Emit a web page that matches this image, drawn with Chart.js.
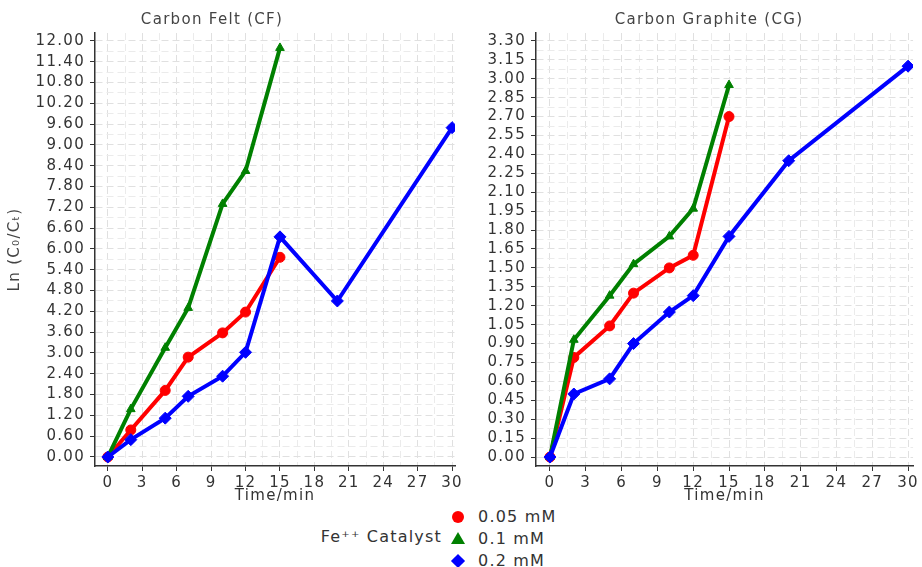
<!DOCTYPE html>
<html>
<head>
<meta charset="utf-8">
<script src="https://cdn.jsdelivr.net/npm/chart.js@4"></script>
<style>
body { margin: 0; background: #fff; width: 922px; height: 567px; overflow: hidden; font-family: "DejaVu Sans", sans-serif; }
#boxCF { position: absolute; left: 0; top: 0; width: 466px; height: 505px; }
#boxCG { position: absolute; left: 462px; top: 0; width: 460px; height: 505px; }
#legend { position: absolute; left: 0; top: 505px; width: 922px; height: 62px; color: #333; font-size: 16px; letter-spacing: 1.2px; }
#legend .title { position: absolute; right: 480px; top: 22px; white-space: nowrap; }
#legend .row { position: absolute; left: 448px; height: 22px; line-height: 22px; }
#legend .row span { position: absolute; left: 30px; white-space: nowrap; }
.mk { position: absolute; left: 4px; top: 5px; }
.mk.circle { width: 12px; height: 12px; border-radius: 50%; background: #ff0000; }
.mk.tri { width: 0; height: 0; left: 3px; top: 4px; border-left: 7px solid transparent; border-right: 7px solid transparent; border-bottom: 12px solid #008000; }
.mk.dia { width: 10px; height: 10px; left: 5px; top: 6px; background: #0000ff; transform: rotate(45deg); }
</style>
</head>
<body>
<div id="boxCF"><canvas id="chartCF"></canvas></div>
<div id="boxCG"><canvas id="chartCG"></canvas></div>
<div id="legend">
    <div class="title">Fe⁺⁺ Catalyst</div>
    <div class="row" style="top:1px"><div class="mk circle"></div><span id="lg0"></span></div>
    <div class="row" style="top:23px"><div class="mk tri"></div><span id="lg1"></span></div>
    <div class="row" style="top:45px"><div class="mk dia"></div><span id="lg2"></span></div>
</div>
<script>
// 数据
const timeShort = [0, 2, 5, 7, 10, 12, 15];
const timeLong = [0, 2, 5, 7, 10, 12, 15, 20, 30];
const seriesNames = ['0.05 mM', '0.1 mM', '0.2 mM'];

// Carbon Felt (CF)
const cfLow = [0, 0.78, 1.92, 2.88, 3.58, 4.18, 5.76];
const cfMid = [0, 1.38, 3.15, 4.30, 7.30, 8.25, 11.80];
const cfHigh = [0, 0.50, 1.12, 1.75, 2.33, 3.02, 6.35, 4.50, 9.50];

// Carbon Graphite (CG)
const cgLow = [0, 0.79, 1.04, 1.30, 1.50, 1.60, 2.70];
const cgMid = [0, 0.93, 1.28, 1.53, 1.75, 1.97, 2.95];
const cgHigh = [0, 0.50, 0.62, 0.90, 1.15, 1.28, 1.75, 2.35, 3.10];

// 刻度
const xTickLabels = [0, 3, 6, 9, 12, 15, 18, 21, 24, 27, 30];
const cfYStep = 0.6, cfYTop = 12;
const cgYStep = 0.15, cgYTop = 3.3;

seriesNames.forEach((n, i) => { document.getElementById('lg' + i).textContent = n; });

const FONT = 'DejaVu Sans';
const colors = ['#ff0000', '#008000', '#0000ff'];
const shapes = ['circle', 'triangle', 'rectRot'];

// 字距加宽，接近原图的宽字形
const spacingPlugin = {
    id: 'spacing',
    beforeLayout(chart) { chart.ctx.letterSpacing = '1.3px'; },
    beforeDraw(chart) { chart.ctx.letterSpacing = '1.3px'; }
};

// 面板标题（原图中并非居中于画布）
const panelTitlePlugin = {
    id: 'panelTitle',
    afterDraw(chart, args, opts) {
        const ctx = chart.ctx;
        ctx.save();
        ctx.letterSpacing = '1.3px';
        ctx.font = '15px "' + FONT + '"';
        ctx.fillStyle = '#444';
        ctx.textAlign = 'center';
        ctx.textBaseline = 'middle';
        ctx.fillText(opts.text, opts.x, 20);
        ctx.restore();
    }
};

function pairs(xs, ys) {
    return ys.map((y, i) => ({ x: xs[i], y: y }));
}

function makeDatasets(low, mid, high) {
    return [low, mid, high].map((vals, i) => ({
        label: seriesNames[i],
        data: pairs(i === 2 ? timeLong : timeShort, vals),
        borderColor: colors[i],
        backgroundColor: colors[i],
        borderWidth: 4,
        pointStyle: shapes[i],
        pointRadius: i === 2 ? 6 : 5,
        pointBorderWidth: 1,
        order: 2 - i
    }));
}

function withMinors(majors, step) {
    let out = [];
    majors.forEach((v, i) => {
        out.push({ value: v, major: true });
        if (i < majors.length - 1) out.push({ value: +(v + step / 2).toFixed(4), major: false });
    });
    return out;
}

function yMajors(step, top) {
    let arr = [];
    let n = Math.round(top / step);
    for (let i = 0; i <= n; i++) arr.push(+(i * step).toFixed(4));
    return arr;
}

function gridCol(ctx) {
    return ctx.tick && ctx.tick.major ? '#e0e0e0' : '#ebebeb';
}
function tickCol(ctx) {
    return ctx.tick && ctx.tick.major ? '#333' : 'rgba(0,0,0,0)';
}

function makeOptions(cfg) {
    return {
        responsive: true,
        maintainAspectRatio: false,
        animation: false,
        layout: { padding: { right: cfg.padRight, left: 0, top: 33, bottom: 0 } },
        plugins: {
            legend: { display: false },
            tooltip: { enabled: false },
            title: { display: false },
            panelTitle: { text: cfg.title, x: cfg.titleX }
        },
        scales: {
            x: {
                type: 'linear',
                min: cfg.xMin,
                max: cfg.xMax,
                afterBuildTicks: s => { s.ticks = withMinors(xTickLabels, 3); },
                afterFit: s => { s.height = 39; },
                ticks: {
                    color: '#333',
                    font: { family: FONT, size: 15 },
                    padding: 3,
                    autoSkip: false,
                    maxRotation: 0,
                    callback: (v, i, t) => t[i].major ? String(v) : ''
                },
                grid: { color: gridCol, tickColor: tickCol, tickLength: 5, lineWidth: 1 },
                border: { display: true, color: '#333', width: 1.5, dash: [7, 4] },
                title: {
                    display: true,
                    text: 'Time/min',
                    color: '#333',
                    font: { family: FONT, size: 15 },
                    padding: { top: 0, bottom: 0 }
                }
            },
            y: {
                type: 'linear',
                min: cfg.yMin,
                max: cfg.yMax,
                afterBuildTicks: s => { s.ticks = withMinors(yMajors(cfg.yStep, cfg.yTop), cfg.yStep); },
                afterFit: s => { s.width = cfg.yWidth; },
                ticks: {
                    color: '#333',
                    font: { family: FONT, size: 15 },
                    padding: 5,
                    autoSkip: false,
                    callback: (v, i, t) => t[i].major ? v.toFixed(2) : ''
                },
                grid: { color: gridCol, tickColor: tickCol, tickLength: 5, lineWidth: 1 },
                border: { display: true, color: '#333', width: 1.5, dash: [7, 4] },
                title: {
                    display: cfg.yTitle !== '',
                    text: cfg.yTitle,
                    color: '#444',
                    font: { family: FONT, size: 15 },
                    padding: { top: 6, bottom: 0 }
                }
            }
        }
    };
}

let _charts = [
    {
        id: 'chartCF',
        datasets: makeDatasets(cfLow, cfMid, cfHigh),
        cfg: { title: 'Carbon Felt (CF)', titleX: 212, xMin: -1.12, xMax: 30.26, yMin: -0.26, yMax: 12.23,
               yStep: cfYStep, yTop: cfYTop, yWidth: 95, padRight: 8, yTitle: 'Ln (C₀/Cₜ)' }
    },
    {
        id: 'chartCG',
        datasets: makeDatasets(cgLow, cgMid, cgHigh),
        cfg: { title: 'Carbon Graphite (CG)', titleX: 247, xMin: -1.17, xMax: 30.42, yMin: -0.071, yMax: 3.363,
               yStep: cgYStep, yTop: cgYTop, yWidth: 74, padRight: 7, yTitle: '' }
    }
];

_charts.forEach(item => {
    new Chart(document.getElementById(item.id), {
        type: 'line',
        data: { datasets: item.datasets },
        options: makeOptions(item.cfg),
        plugins: [spacingPlugin, panelTitlePlugin]
    });
});
</script>
</body>
</html>
